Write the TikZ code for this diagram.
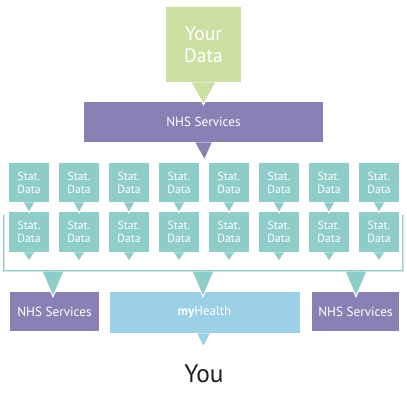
\documentclass[tikz,border=0pt]{standalone}
\usepackage{fontspec}
\setmainfont{PT Sans}
\usetikzlibrary{calc}
\definecolor{cgreen}{RGB}{204,224,164}
\definecolor{cpurple}{RGB}{139,128,180}
\definecolor{cteal}{RGB}{142,205,200}
\definecolor{cblue}{RGB}{156,208,230}
\definecolor{cdark}{RGB}{30,30,30}
\begin{document}
\begin{tikzpicture}[x=0.75pt,y=-0.75pt,
  box/.style={fill=#1, text=white, inner sep=0pt, align=center},
  statbox/.style={box=cteal, minimum width=30pt, minimum height=30pt,
    font=\fontsize{8.8}{9.6}\selectfont},
  nhsbox/.style={box=cpurple, font=\fontsize{9.9}{11}\selectfont},
  ptr/.style={fill=#1, draw=white, line width=0.8pt, line join=miter},
  bracket/.style={draw=cteal, line width=0.6pt, double=cteal!45, double distance=0.7pt}]
\useasboundingbox (0,0) rectangle (407,400);

% boxes
\node[box=cgreen, minimum width=56.25pt, minimum height=56.25pt,
  font=\fontsize{14.6}{16.3}\selectfont] (yd) at (203.5,44.5) {Your\\Data};
\node[nhsbox, minimum width=179.25pt, minimum height=30pt] (ns1) at (203.5,122) {NHS Services};
\foreach \k in {0,...,7} {
  \pgfmathsetmacro\cx{29+50*\k}
  \node[statbox, minimum height=29.25pt] (a\k) at (\cx,182.5) {Stat.\\Data};
  \node[statbox] (b\k) at (\cx,232) {Stat.\\Data};
}
\node[nhsbox, minimum width=66.75pt, minimum height=29.25pt] (nsL) at (54.5,311.5) {NHS Services};
\node[box=cblue, minimum width=142.5pt, minimum height=30.75pt,
  font=\fontsize{9.7}{11}\selectfont] (mh) at (204.5,312.5) {\textbf{my}Health};
\node[nhsbox, minimum width=65.25pt, minimum height=29.25pt] (nsR) at (355.5,311.5) {NHS Services};
\node[text=cdark, anchor=base, inner sep=0pt, font=\fontsize{19}{22}\selectfont] (you) at (204,382) {You};

% bracket
\coordinate (bl) at (4,215);
\coordinate (br) at (403,215);
\coordinate (bb) at (0,271);
\draw[bracket] (bl) -- (bl |- bb) -- (br |- bb) -- (br);

% pointers
\path[ptr=cgreen] ($(yd.south)+(-12.5,0)$) -- ($(yd.south |- ns1.north)+(0,3)$) -- ($(yd.south)+(12.5,0)$);
\path[ptr=cpurple] ($(ns1.south)+(-9,0)$) -- ($(ns1.south)+(1,18)$) -- ($(ns1.south)+(9,0)$);
\foreach \k in {0,...,7} {
  \path[ptr=cteal] ($(a\k.south)+(-6,0)$) -- ($(a\k.south |- b\k.north)+(0,1)$) -- ($(a\k.south)+(6,0)$);
  \path[ptr=cteal] ($(b\k.south)+(-6,0)$) -- ($(b\k.south)+(0,9)$) -- ($(b\k.south)+(6,0)$);
}
\foreach \n/\x in {nsL/53,mh/203,nsR/356} {
  \path[ptr=cteal] ($(\x,0 |- bb)+(-11,0.5)$) -- ($(\x,0 |- \n.north)+(0,5)$) -- ($(\x,0 |- bb)+(11,0.5)$);
}
\path[ptr=cblue] ($(mh.south)+(-8,0)$) -- ($(mh.south)+(-1,14)$) -- ($(mh.south)+(6,0)$);
\end{tikzpicture}
\end{document}
